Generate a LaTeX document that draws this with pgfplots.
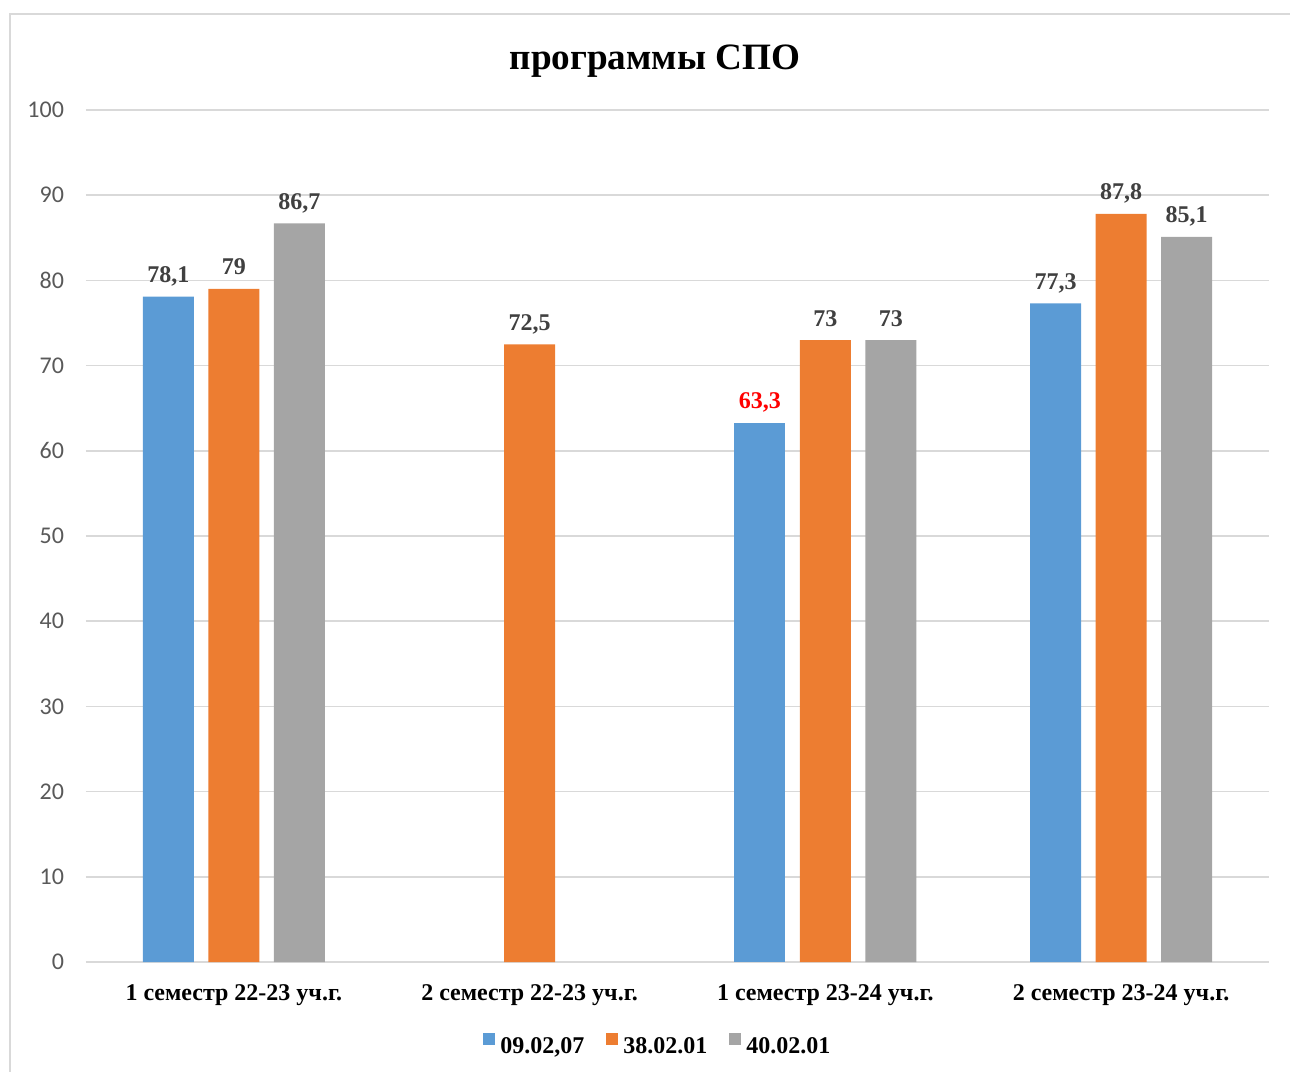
\documentclass[border=0pt]{standalone}
\usepackage{fontspec}
\setmainfont{Liberation Serif}
\newfontfamily\calibri{Carlito}
\usepackage{pgfplots}
\pgfplotsset{compat=1.18}

\definecolor{cblue}{HTML}{5B9BD5}
\definecolor{corange}{HTML}{ED7D31}
\definecolor{cgrey}{HTML}{A5A5A5}
\definecolor{gridc}{HTML}{D9D9D9}
\definecolor{ticktxt}{HTML}{595959}
\definecolor{lbltxt}{HTML}{404040}

\begin{document}
\begin{tikzpicture}
\useasboundingbox (0pt,0pt) rectangle (645pt,535.5pt);
% chart frame (cut off at right and bottom)
\draw[gridc, line width=1pt] (5pt,-10pt) -- (5pt,528.5pt) -- (660pt,528.5pt);
% title
\node[anchor=base, font=\bfseries\fontsize{18.6}{18.6}\selectfont] at (327.5pt,500.5pt) {программы СПО};

\begin{axis}[
  at={(43pt,54.5pt)}, anchor=south west,
  scale only axis, width=591.5pt, height=426pt,
  ybar, bar width=25.5pt,
  xmin=-0.5, xmax=3.5, ymin=0, ymax=100,
  ytick={0,10,...,100},
  xtick={0,1,2,3},
  xticklabels={1 семестр 22-23 уч.г., 2 семестр 22-23 уч.г., 1 семестр 23-24 уч.г., 2 семестр 23-24 уч.г.},
  ymajorgrids, grid style={gridc, line width=0.75pt},
  axis line style={draw=none}, major tick length=0pt,
  /pgf/number format/assume math mode=true,
  /pgf/number format/use comma,
  yticklabel style={font=\calibri\fontsize{12}{12}\selectfont, text=ticktxt, xshift=-7.5pt},
  xticklabel style={font=\bfseries\fontsize{12}{12}\selectfont, anchor=base, yshift=-19pt},
  nodes near coords={\pgfmathprintnumber[fixed,precision=1]{\pgfplotspointmeta}},
  every node near coord/.append style={font=\bfseries\fontsize{12}{12}\selectfont, text=lbltxt, anchor=base, yshift=7pt},
  legend columns=3,
  legend style={at={(0.4835,-0.098)}, anchor=center, draw=none, fill=none,
    font=\bfseries\fontsize{12}{12}\selectfont,
    nodes={inner sep=1pt},
    /tikz/every odd column/.append style={column sep=1.5pt},
    /tikz/every even column/.append style={column sep=10pt}},
  legend image code/.code={\fill[#1] (0pt,0.8pt) rectangle (6pt,6.8pt);},
]
\addplot[fill=cblue, draw=none, bar shift=-32.75pt] coordinates {(0,78.1) (3,77.3)};
\addplot[fill=corange, draw=none, bar shift=0pt] coordinates {(0,79) (1,72.5) (2,73) (3,87.8)};
\addplot[fill=cgrey, draw=none, bar shift=32.75pt] coordinates {(0,86.7) (2,73) (3,85.1)};
\addplot[fill=cblue, draw=none, bar shift=-32.75pt, forget plot,
  every node near coord/.append style={text=red}] coordinates {(2,63.3)};
\legend{{09.02,07}, 38.02.01, 40.02.01}
\end{axis}
\end{tikzpicture}
\end{document}
